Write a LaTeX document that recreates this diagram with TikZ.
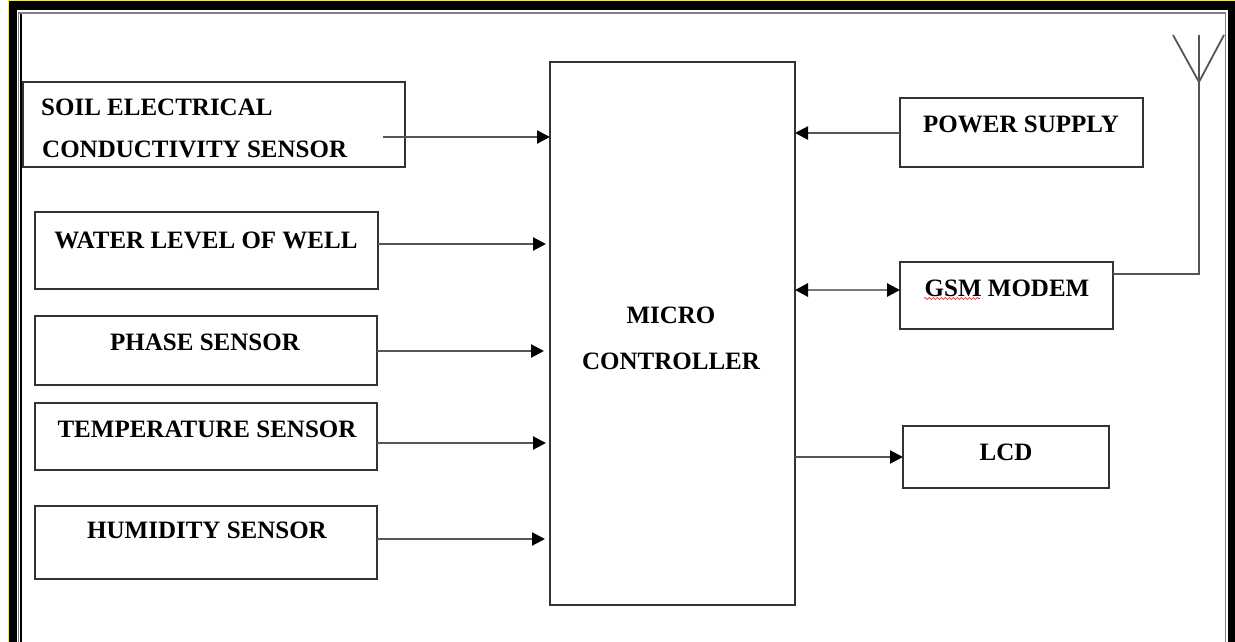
\documentclass[tikz,border=0pt]{standalone}
\usepackage{fontspec}
\setmainfont{Liberation Serif}
\usetikzlibrary{arrows.meta,decorations.pathmorphing}
\definecolor{boxc}{HTML}{333333}
\definecolor{linec}{HTML}{555555}
\tikzset{
  blk/.style={draw=boxc, line width=2pt, inner sep=0pt, outer sep=0pt, fill=none},
  lbl/.style={inner sep=0pt, font=\fontsize{25pt}{28pt}\selectfont\bfseries, text=black},
  arr/.style={draw=linec, line width=2.2pt, -{Triangle[length=13pt,width=13pt,color=black]}},
  darr/.style={draw=linec!80, line width=2.8pt, {Triangle[length=13pt,width=13pt,color=black]}-{Triangle[length=13pt,width=13pt,color=black]}},
  wire/.style={draw=linec, line width=1.8pt}
}
\begin{document}
\begin{tikzpicture}[x=1pt,y=-1pt]
\useasboundingbox (0,0) rectangle (1235,642);
% page frame
\fill[black] (9,1.5) rectangle (1235,650);
\fill[white] (16.5,10) rectangle (1228,650);
\draw[yellow, line width=1.5pt] (8.5,650) -- (8.5,0.75) -- (1235,0.75);
\draw[gray, line width=1.2pt] (18.5,650) -- (18.5,13) -- (1225.5,13) -- (1225.5,650);
\draw[black, line width=1.5pt] (21,650) -- (21,14.5);
% boxes
\node[blk, minimum width=382pt, minimum height=85pt] (soil) at (214,124.5) {};
\node[blk, minimum width=343pt, minimum height=77pt] (water) at (206.5,250.5) {};
\node[blk, minimum width=342pt, minimum height=69pt] (phase) at (206,350.5) {};
\node[blk, minimum width=342pt, minimum height=67pt] (temp) at (206,436.5) {};
\node[blk, minimum width=342pt, minimum height=73pt] (humid) at (206,542.5) {};
\node[blk, minimum width=245pt, minimum height=543pt] (micro) at (672.5,333.5) {};
\node[blk, minimum width=243pt, minimum height=69pt] (power) at (1021.5,132.5) {};
\node[blk, minimum width=213pt, minimum height=67pt] (gsm) at (1006.5,295.5) {};
\node[blk, minimum width=206pt, minimum height=62pt] (lcd) at (1006,457) {};
% labels
\node[lbl, anchor=west] (soilA) at (41,107) {SOIL ELECTRICAL};
\node[lbl, anchor=west] (soilB) at (42,149) {CONDUCTIVITY SENSOR};
\node[lbl] (waterT) at (206,240) {WATER LEVEL OF WELL};
\node[lbl] (phaseT) at (205,342) {PHASE SENSOR};
\node[lbl] (tempT) at (207,429) {TEMPERATURE SENSOR};
\node[lbl] (humidT) at (207,530) {HUMIDITY SENSOR};
\node[lbl] (microA) at (671,315) {MICRO};
\node[lbl] (microB) at (671,361) {CONTROLLER};
\node[lbl] (powerT) at (1021,124) {POWER SUPPLY};
\node[lbl] (gsmT) at (1007,288) {GSM MODEM};
\node[lbl] (lcdT) at (1006,452) {LCD};
% spell-check underline
\coordinate (sqA) at (924,298.5);
\coordinate (sqB) at (980,298.5);
\draw[red, line width=0.6pt, decorate, decoration={snake, segment length=4pt, amplitude=1pt}] (sqA) -- (sqB);
% input arrows
\draw[arr] ([xshift=-22pt]soil.east |- 0,137) -- (micro.west |- 0,137);
\draw[arr] (water.east |- 0,244) -- ([xshift=-4pt]micro.west |- 0,244);
\draw[arr] (phase.east |- 0,351) -- ([xshift=-6pt]micro.west |- 0,351);
\draw[arr] (temp.east |- 0,443) -- ([xshift=-4pt]micro.west |- 0,443);
\draw[arr] (humid.east |- 0,539) -- ([xshift=-5pt]micro.west |- 0,539);
% output arrows
\draw[arr] (power.west |- 0,133) -- (micro.east |- 0,133);
\draw[darr] (micro.east |- 0,290) -- (gsm.west |- 0,290);
\draw[arr] (micro.east |- 0,457) -- (lcd.west |- 0,457);
% antenna
\coordinate (antTop) at (1199,35);
\coordinate (antV) at (1199,82);
\coordinate (antL) at (1173,35);
\coordinate (antR) at (1224,35);
\draw[wire] (gsm.east |- 0,274) -- (antV |- 0,274) -- (antTop);
\draw[wire] (antL) -- (antV) -- (antR);
\end{tikzpicture}
\end{document}
